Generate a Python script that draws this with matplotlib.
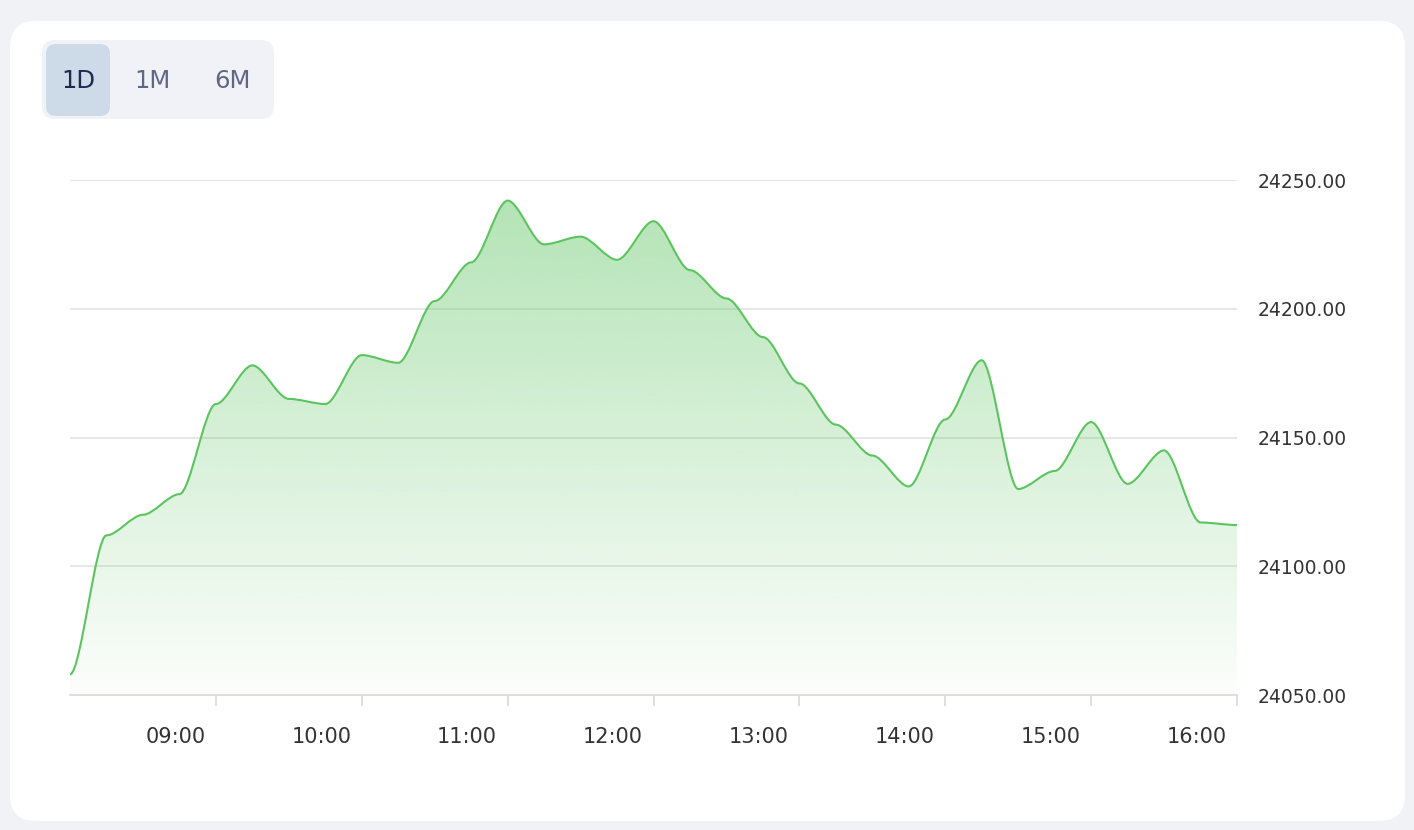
import matplotlib
matplotlib.use('Agg')
import matplotlib.pyplot as plt
import numpy as np
from matplotlib.path import Path
from matplotlib.patches import PathPatch, FancyBboxPatch
from matplotlib import transforms

# Intraday quotes, one every 15 min
times = ['08:00', '08:15', '08:30', '08:45', '09:00', '09:15', '09:30', '09:45',
         '10:00', '10:15', '10:30', '10:45', '11:00', '11:15', '11:30', '11:45',
         '12:00', '12:15', '12:30', '12:45', '13:00', '13:15', '13:30', '13:45',
         '14:00', '14:15', '14:30', '14:45', '15:00', '15:15', '15:30', '15:45',
         '16:00']
prices = [24058, 24112, 24120, 24128, 24163, 24178, 24165, 24163,
          24182, 24179, 24203, 24218, 24242, 24225, 24228, 24219,
          24234, 24215, 24204, 24189, 24171, 24155, 24143, 24131,
          24157, 24180, 24130, 24137, 24156, 24132, 24145, 24117,
          24116]
yticks = [24050, 24100, 24150, 24200, 24250]
xtick_hours = [9, 10, 11, 12, 13, 14, 15, 16]
ranges = ['1D', '1M', '6M']

line_col = '#5cc45f'
W, H = 1414, 830

hours = np.array([int(t[:2]) + int(t[3:]) / 60 for t in times])
vals = np.array(prices, dtype=float)

fig = plt.figure(figsize=(W / 100, H / 100), dpi=100)
fig.patch.set_facecolor('#f1f2f6')

# background layer in pixel coords: card + range buttons
bg = fig.add_axes([0, 0, 1, 1])
bg.set_xlim(0, W)
bg.set_ylim(H, 0)
bg.axis('off')
bg.add_patch(FancyBboxPatch((10, 21), 1395, 800, boxstyle='round,pad=0,rounding_size=26',
                            fc='white', ec='none'))
bg.add_patch(FancyBboxPatch((42, 40), 232, 79, boxstyle='round,pad=0,rounding_size=13',
                            fc='#f0f2f7', ec='none'))
bg.add_patch(FancyBboxPatch((46, 44), 64, 72, boxstyle='round,pad=0,rounding_size=10',
                            fc='#cddae8', ec='none'))
for lab, cx, col in zip(ranges, [78, 152, 232], ['#1d2a4d', '#5f6783', '#5f6783']):
    bg.text(cx, 81, lab, ha='center', va='center', fontsize=17.5, color=col,
            family='DejaVu Sans')

# main chart
x0, x1, ytop, ybot = 70, 1237, 180, 695
ax = fig.add_axes([x0 / W, 1 - ybot / H, (x1 - x0) / W, (ybot - ytop) / H])
ax.patch.set_alpha(0)
ax.set_xlim(8, 16)
ax.set_ylim(24050, 24250)

# smooth curve with horizontal handles at each point (monotone in x)
sm = 0.3
verts = [(hours[0], vals[0])]
codes = [Path.MOVETO]
for i in range(len(hours) - 1):
    dx = hours[i + 1] - hours[i]
    verts += [(hours[i] + sm * dx, vals[i]),
              (hours[i + 1] - sm * dx, vals[i + 1]),
              (hours[i + 1], vals[i + 1])]
    codes += [Path.CURVE4] * 3
verts = np.array(verts)
line_path = Path(verts, codes)

area_verts = np.vstack([verts, [[hours[-1], 24050], [hours[0], 24050], [hours[0], 24050]]])
area_codes = codes + [Path.LINETO, Path.LINETO, Path.CLOSEPOLY]
area_path = Path(area_verts, area_codes)

# grid
for yv in yticks[1:]:
    ax.axhline(yv, color='#e0e0e0', lw=1.1, zorder=1)

# gradient fill
grad = np.zeros((256, 1, 4))
grad[:, 0, :3] = matplotlib.colors.to_rgb(line_col)
grad[:, 0, 3] = np.linspace(0.46, 0.02, 256)
im = ax.imshow(grad, extent=[8, 16, 24050, vals.max()], origin='upper', aspect='auto',
               zorder=2, interpolation='bilinear')
clip = PathPatch(area_path, fc='none', ec='none', transform=ax.transData)
ax.add_patch(clip)
im.set_clip_path(clip)

ax.add_patch(PathPatch(line_path, fc='none', ec=line_col, lw=1.5, zorder=3))

ax.set_xlim(8, 16)
ax.set_ylim(24050, 24250)

for s in ['top', 'left', 'right']:
    ax.spines[s].set_visible(False)
ax.spines['bottom'].set_color('#dcdcdc')
ax.spines['bottom'].set_linewidth(1.3)

ax.set_xticks(xtick_hours)
ax.set_xticklabels([])
ax.tick_params(axis='x', length=8, width=1.3, color='#dcdcdc')
trans = transforms.blended_transform_factory(ax.transData, ax.transAxes)
for h in xtick_hours:
    ax.text(h - 0.278, -0.082, '%02d:00' % h, transform=trans, ha='center', va='center',
            fontsize=15, color='#333333')

ax.yaxis.tick_right()
ax.set_yticks(yticks)
ax.set_yticklabels(['%.2f' % v for v in yticks], fontsize=13.5, color='#333333')
ax.tick_params(axis='y', length=0, pad=15)

fig.savefig('out.png', dpi=100, facecolor=fig.get_facecolor())
